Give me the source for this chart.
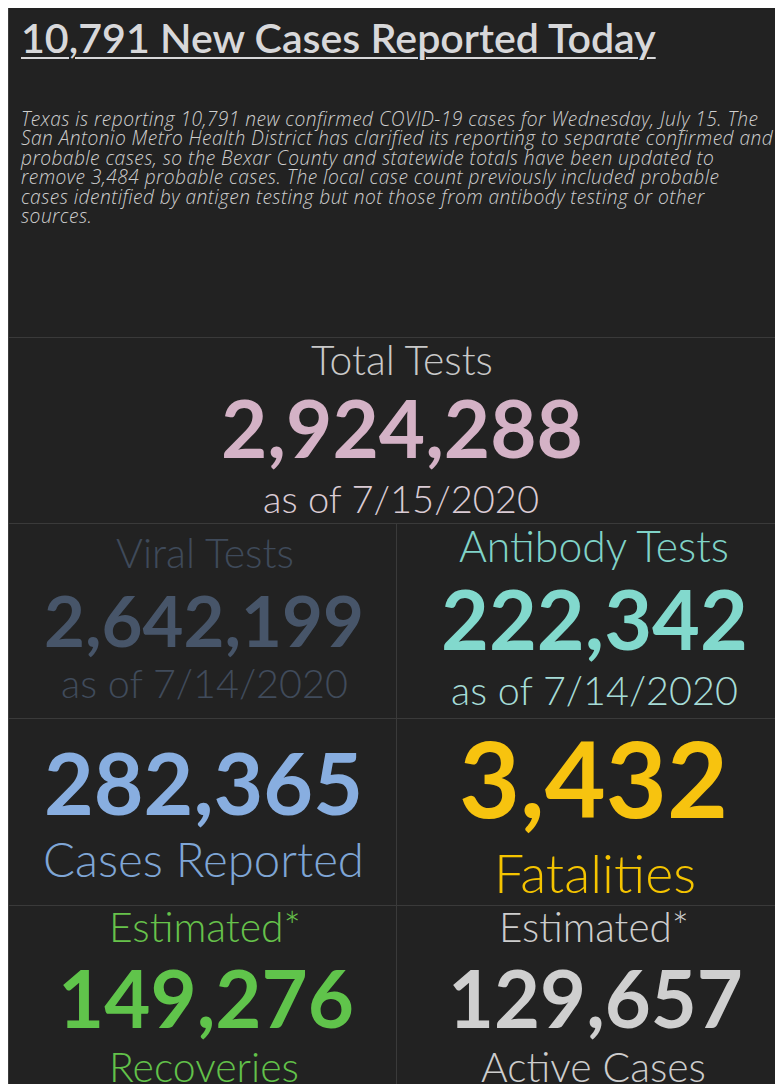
<!DOCTYPE html>
<html>
<head>
<meta charset="utf-8">
<script src="https://cdn.jsdelivr.net/npm/chart.js@4/dist/chart.umd.min.js"></script>
<style>
  html, body { margin: 0; padding: 0; background: #fff; overflow: hidden; width: 775px; height: 1084px; }
  #panel { position: absolute; left: 8px; top: 8px; width: 784px; height: 1100px; background: #222222; border-left: 1px solid #3c3c3c; box-sizing: border-box; }
  .t { position: absolute; left: 0; top: 0; white-space: nowrap; font-family: Lato, "Open Sans", sans-serif; line-height: 1; }
  .note { font-family: "Open Sans", Lato, sans-serif; }
  .hr { position: absolute; left: 0; width: 100%; height: 1px; background: #3a3a3a; }
  .vr { position: absolute; width: 1px; background: #3a3a3a; }
</style>
</head>
<body>
<div id="panel"></div>
<script>
// headline + note
const headline = "10,791 New Cases Reported Today";
const noteLines = [
    "Texas is reporting 10,791 new confirmed COVID-19 cases for Wednesday, July 15. The",
    "San Antonio Metro Health District has clarified its reporting to separate confirmed and",
    "probable cases, so the Bexar County and statewide totals have been updated to",
    "remove 3,484 probable cases. The local case count previously included probable",
    "cases identified by antigen testing but not those from antibody testing or other",
    "sources."
];

// stat cards
const cardTops = ["Total Tests", "Viral Tests", "Antibody Tests", "", "", "Estimated*", "Estimated*"];
const cardValues = [2924288, 2642199, 222342, 282365, 3432, 149276, 129657];
const cardBottoms = ["as of 7/15/2020", "as of 7/14/2020", "as of 7/14/2020", "Cases Reported", "Fatalities", "Recoveries", "Active Cases"];

// layout (page coords): [x0, x1, baseline] for top label, value, bottom label
const cardLayout = [
    { top: [310, 492, 375], val: [220, 582, 458], bot: [262, 538, 513], c: ["#c9c9c9", "#d4b2c6", "#dacbd4"] },
    { top: [115, 293, 568], val: [43, 363, 647], bot: [60, 347, 698], c: ["#3f4a5a", "#475569", "#404b5b"] },
    { top: [458, 728, 562], val: [440, 747, 650], bot: [450, 737, 705], c: ["#80d3c8", "#82d9cd", "#a6dcd7"] },
    { top: null, val: [43, 362, 815], bot: [42, 363, 877], c: [null, "#88aee0", "#7fa6d6"] },
    { top: null, val: [458, 727, 818], bot: [493, 695, 893], c: [null, "#f7c30f", "#f5c400"] },
    { top: [108, 300, 942], val: [57, 353, 1028], bot: [108, 298, 1082], c: ["#67c24b", "#60c44b", "#62c24a"] },
    { top: [498, 688, 942], val: [447, 742, 1028], bot: [480, 705, 1082], c: ["#cdcdcd", "#cfcfcf", "#cdcdcd"] }
];
const hLines = [337, 523, 718, 905];
const vLine = { x: 395, from: 523 };

const panel = document.getElementById("panel");
const PX = 8, PY = 8;

// place text so that it spans x0..x1 with its baseline at base
function place(text, x0, x1, base, color, weight, italic, fixedSize, cls, spacing) {
    let el = document.createElement("div");
    el.className = "t" + (cls ? " " + cls : "");
    el.style.color = color;
    el.style.fontWeight = weight;
    if (italic) el.style.fontStyle = "italic";
    if (spacing) el.style.letterSpacing = spacing + "px";
    el.textContent = text;
    let mark = document.createElement("span");
    mark.style.display = "inline-block";
    mark.style.width = "0";
    mark.style.height = "0";
    el.appendChild(mark);
    panel.appendChild(el);

    let size = fixedSize || 100;
    el.style.fontSize = size + "px";
    if (!fixedSize) {
        size = size * (x1 - x0) / el.getBoundingClientRect().width;
        el.style.fontSize = size + "px";
    }
    let baseOff = mark.offsetTop;
    el.style.left = (x0 - PX) + "px";
    el.style.top = (base - PY - baseOff) + "px";
    return { el, size };
}

// headline with underline
let h = place(headline, 20, 655, 53, "#d8d8da", 600, false);
h.el.style.textDecoration = "underline";
h.el.style.textDecorationThickness = "2px";
h.el.style.textUnderlineOffset = "4px";

// note paragraph: 95% of the fitted size, the rest made up with letter spacing
let probe = place(noteLines[1], 20, 772, -100, "#000", 300, true, 0, "note");
let noteSize = probe.size * 0.95;
probe.el.style.fontSize = noteSize + "px";
let noteW = probe.el.getBoundingClientRect().width;
probe.el.remove();
let noteSpacing = (752 - noteW) / noteLines[1].length;
noteLines.forEach((line, i) => {
    place(line, 20, 0, 126 + i * 19.4, "#cfcfcf", 300, true, noteSize, "note", noteSpacing);
});

// grid lines
hLines.forEach(y => {
    let d = document.createElement("div");
    d.className = "hr";
    d.style.top = (y - PY) + "px";
    panel.appendChild(d);
});
let v = document.createElement("div");
v.className = "vr";
v.style.left = (vLine.x - PX) + "px";
v.style.top = (vLine.from - PY) + "px";
v.style.height = "700px";
panel.appendChild(v);

// cards
cardValues.forEach((val, i) => {
    let L = cardLayout[i];
    if (L.top && cardTops[i]) place(cardTops[i], L.top[0], L.top[1], L.top[2], L.c[0], 300, false);
    place(val.toLocaleString("en-US"), L.val[0], L.val[1], L.val[2], L.c[1], 700, false);
    place(cardBottoms[i], L.bot[0], L.bot[1], L.bot[2], L.c[2], 300, false);
});
</script>
</body>
</html>
